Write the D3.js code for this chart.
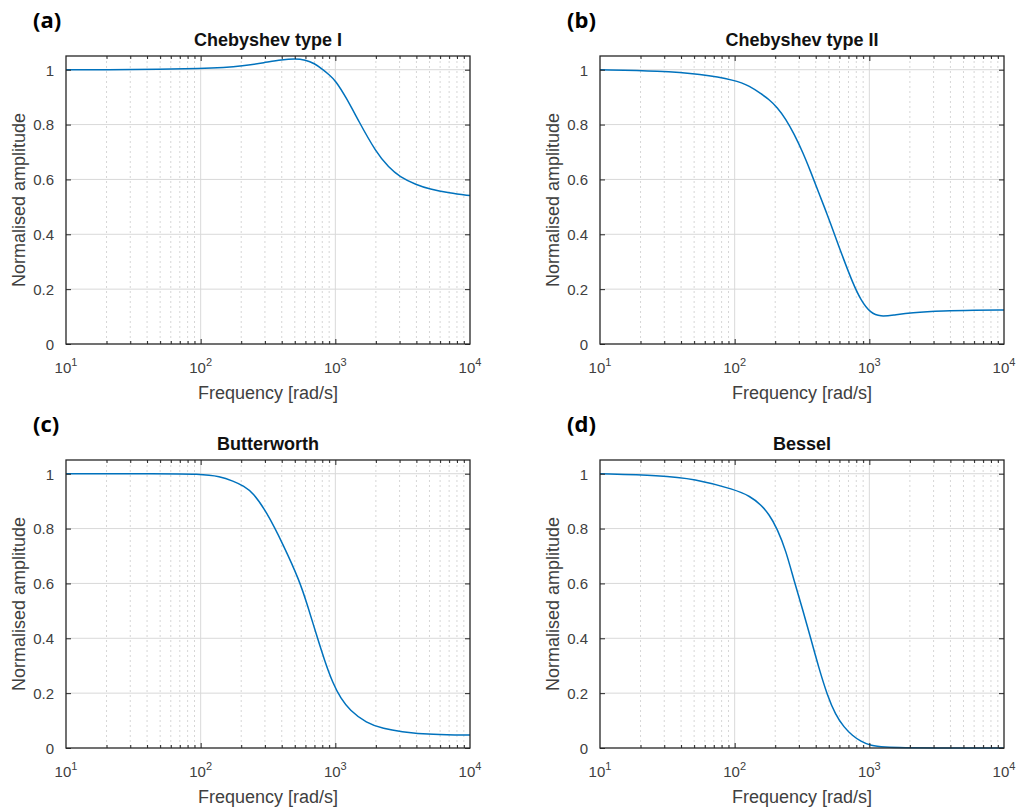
<!DOCTYPE html>
<html lang="en">
<head>
<meta charset="UTF-8">
<title>Filter responses</title>
<script src="https://cdn.jsdelivr.net/npm/d3@7/dist/d3.min.js"></script>
<style>
    body { margin: 0; background: #fff; }
    svg { font-family: "Liberation Sans", Arial, sans-serif; }
    .tick-label { fill: #404040; font-size: 15px; }
    .axis-label { fill: #404040; font-size: 18px; }
    .title { fill: #111; font-size: 18px; font-weight: bold; text-anchor: middle; }
    .panel-tag { fill: #000; font-size: 22px; font-weight: bold; font-family: "Open Sans", "Liberation Sans", sans-serif; }
</style>
</head>
<body>
<script>
    var width = 1017;
    var height = 807;

    // data
    var yTicks = [0, 0.2, 0.4, 0.6, 0.8, 1];
    var decades = [1, 2, 3, 4];

    var cheb1Freq = [10, 20, 50, 100, 150, 200, 300, 400, 500, 600, 700, 800, 900, 1000, 1200, 1500, 2000, 2500, 3000, 4000, 5000, 7000, 10000];
    var cheb1Amp  = [1.0, 1.0, 1.001, 1.004, 1.008, 1.013, 1.026, 1.036, 1.04, 1.036, 1.023, 1.002, 0.982, 0.961, 0.90, 0.81, 0.70, 0.643, 0.61, 0.58, 0.565, 0.551, 0.541];

    var cheb2Freq = [10, 28, 56, 101, 130, 156, 180, 207, 240, 276, 320, 367, 420, 489, 560, 649, 750, 863, 1023, 1213, 1500, 2028, 3589, 6000, 10000];
    var cheb2Amp  = [1.0, 0.996, 0.984, 0.962, 0.94, 0.913, 0.892, 0.863, 0.82, 0.766, 0.70, 0.628, 0.553, 0.47, 0.39, 0.305, 0.225, 0.16, 0.112, 0.10, 0.105, 0.114, 0.121, 0.123, 0.124];

    var buttFreq = [10, 50, 98, 140, 174, 210, 245, 307, 409, 543, 621, 721, 830, 958, 1100, 1273, 1693, 2300, 2991, 5289, 10000];
    var buttAmp  = [1.0, 1.0, 0.999, 0.99, 0.973, 0.955, 0.930, 0.863, 0.743, 0.609, 0.52, 0.416, 0.32, 0.236, 0.18, 0.139, 0.091, 0.07, 0.060, 0.048, 0.047];

    var besFreq = [10, 28, 50, 101, 130, 156, 180, 207, 240, 276, 320, 367, 420, 489, 560, 649, 750, 863, 1023, 1300, 1800, 3000, 10000];
    var besAmp  = [1.0, 0.994, 0.982, 0.942, 0.918, 0.888, 0.852, 0.80, 0.72, 0.61, 0.505, 0.40, 0.295, 0.19, 0.122, 0.075, 0.045, 0.024, 0.008, 0.003, 0.001, 0.0, 0.0];

    var panels = [
        {tag: '(a)', title: 'Chebyshev type I', freq: cheb1Freq, amp: cheb1Amp, x: 66, y: 56},
        {tag: '(b)', title: 'Chebyshev type II', freq: cheb2Freq, amp: cheb2Amp, x: 600, y: 56},
        {tag: '(c)', title: 'Butterworth', freq: buttFreq, amp: buttAmp, x: 66, y: 460},
        {tag: '(d)', title: 'Bessel', freq: besFreq, amp: besAmp, x: 600, y: 460}
    ];

    var pw = 404;
    var ph = 288;

    var svg = d3.select('body')
        .append('svg')
        .attr('width', width)
        .attr('height', height);

    var xScale = d3.scaleLog().domain([10, 10000]).range([0, pw]);
    var yScale = d3.scaleLinear().domain([0, 1.05]).range([ph, 0]);

    // minor positions 2..9 in each decade
    var minor = [];
    [10, 100, 1000].forEach(function (base) {
        for (var k = 2; k <= 9; k++) minor.push(base * k);
    });

    panels.forEach(function (p) {
        var g = svg.append('g').attr('transform', 'translate(' + p.x + ',' + p.y + ')');

        // minor grid (dotted)
        g.selectAll('.minor-grid')
            .data(minor)
            .enter()
            .append('line')
            .attr('x1', function (d) { return xScale(d); })
            .attr('x2', function (d) { return xScale(d); })
            .attr('y1', 0)
            .attr('y2', ph)
            .attr('stroke', '#d6d6d6')
            .attr('stroke-dasharray', '2,3')
            .attr('stroke-width', 1);

        // major grid
        g.selectAll('.vgrid')
            .data(decades.slice(1, 3))
            .enter()
            .append('line')
            .attr('x1', function (d) { return xScale(Math.pow(10, d)); })
            .attr('x2', function (d) { return xScale(Math.pow(10, d)); })
            .attr('y1', 0)
            .attr('y2', ph)
            .attr('stroke', '#d9d9d9');

        g.selectAll('.hgrid')
            .data(yTicks.slice(1))
            .enter()
            .append('line')
            .attr('x1', 0)
            .attr('x2', pw)
            .attr('y1', function (d) { return yScale(d); })
            .attr('y2', function (d) { return yScale(d); })
            .attr('stroke', '#d9d9d9');

        // curve
        var line = d3.line()
            .x(function (d) { return xScale(d[0]); })
            .y(function (d) { return yScale(d[1]); })
            .curve(d3.curveBasis);

        g.append('path')
            .datum(d3.zip(p.freq, p.amp))
            .attr('d', line)
            .attr('fill', 'none')
            .attr('stroke', '#0072BD')
            .attr('stroke-width', 1.5);

        // box
        g.append('rect')
            .attr('width', pw)
            .attr('height', ph)
            .attr('fill', 'none')
            .attr('stroke', '#262626')
            .attr('stroke-width', 1.3);

        // axes with inner ticks
        var yLeft = d3.axisLeft(yScale).tickValues(yTicks).tickSize(-5).tickFormat(function (d) { return d; });
        var yRight = d3.axisRight(yScale).tickValues(yTicks).tickSize(-5).tickFormat('');
        var xTop = d3.axisTop(xScale).tickValues(minor).tickSize(-3).tickFormat('');
        var xBot = d3.axisBottom(xScale).tickValues(minor).tickSize(-3).tickFormat('');
        var xTopMaj = d3.axisTop(xScale).tickValues([100, 1000]).tickSize(-5).tickFormat('');
        var xBotMaj = d3.axisBottom(xScale).tickValues([100, 1000]).tickSize(-5).tickFormat('');

        var yl = g.append('g').call(yLeft);
        yl.selectAll('text').attr('class', 'tick-label').attr('x', -12).attr('dy', '0.36em');
        g.append('g').attr('transform', 'translate(' + pw + ',0)').call(yRight);
        g.append('g').call(xTop);
        g.append('g').call(xTopMaj);
        g.append('g').attr('transform', 'translate(0,' + ph + ')').call(xBot);
        g.append('g').attr('transform', 'translate(0,' + ph + ')').call(xBotMaj);
        g.selectAll('.domain').remove();
        g.selectAll('.tick line').attr('stroke', '#262626');

        // x tick labels 10^n
        var xl = g.selectAll('.xlab')
            .data(decades)
            .enter()
            .append('text')
            .attr('class', 'tick-label')
            .attr('x', function (d) { return xScale(Math.pow(10, d)); })
            .attr('y', ph + 29)
            .attr('text-anchor', 'middle');
        xl.append('tspan').text('10');
        xl.append('tspan').attr('dy', -7).attr('font-size', 11).text(function (d) { return d; });

        // labels
        g.append('text')
            .attr('class', 'axis-label')
            .attr('x', pw / 2)
            .attr('y', ph + 55)
            .attr('text-anchor', 'middle')
            .text('Frequency [rad/s]');

        g.append('text')
            .attr('class', 'axis-label')
            .attr('transform', 'translate(' + (-41) + ',' + (ph / 2) + ') rotate(-90)')
            .attr('text-anchor', 'middle')
            .text('Normalised amplitude');

        g.append('text')
            .attr('class', 'title')
            .attr('x', pw / 2)
            .attr('y', -10)
            .text(p.title);

        g.append('text')
            .attr('class', 'panel-tag')
            .attr('x', -33)
            .attr('y', -28)
            .text(p.tag);
    });
</script>
</body>
</html>
